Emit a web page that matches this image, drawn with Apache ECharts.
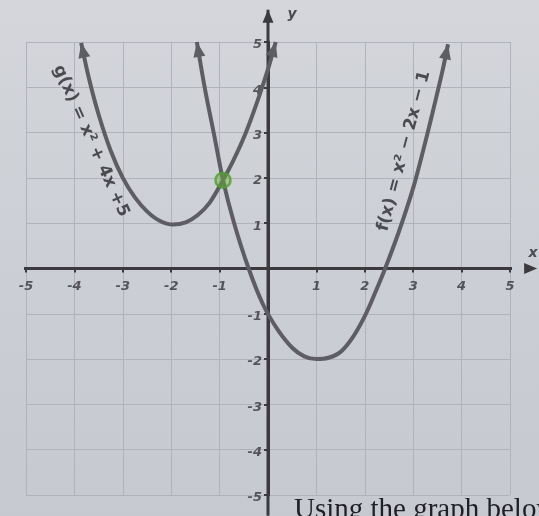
<!DOCTYPE html>
<html>
<head>
<meta charset="utf-8">
<script src="https://cdn.jsdelivr.net/npm/echarts@6/dist/echarts.min.js"></script>
<style>
  html, body { margin: 0; padding: 0; }
  #chart { width: 539px; height: 516px; background: linear-gradient(180deg, #d4d6db 0%, #cbced4 55%, #c6c9d0 100%); }
</style>
</head>
<body>
<div id="chart"></div>
<script>
// Traced points of the two parabolas, [x, y]
const fCurve = [
  [-1.47, 5.00], [-1.30, 3.95], [-1.10, 2.88], [-0.93, 1.95], [-0.70, 1.00],
  [-0.40, 0.00], [-0.10, -0.80], [0.20, -1.35], [0.50, -1.75], [0.75, -1.94],
  [1.00, -2.00], [1.25, -1.97], [1.50, -1.84], [1.75, -1.52], [2.00, -1.05],
  [2.20, -0.57], [2.42, 0.00], [2.70, 0.80], [3.00, 1.78], [3.20, 2.58],
  [3.40, 3.44], [3.60, 4.34], [3.72, 4.95]
];
const gCurve = [
  [-3.86, 4.98], [-3.70, 4.20], [-3.50, 3.40], [-3.25, 2.60], [-3.00, 2.00],
  [-2.75, 1.57], [-2.50, 1.26], [-2.25, 1.06], [-1.96, 0.97], [-1.70, 1.02],
  [-1.45, 1.18], [-1.20, 1.46], [-0.93, 1.95], [-0.70, 2.42], [-0.45, 3.02],
  [-0.20, 3.75], [0.00, 4.40], [0.16, 5.00]
];
// Point where the two graphs meet
const crossPoint = [[-0.93, 1.95]];
// Tick labels along each axis
const xTickValues = [-5, -4, -3, -2, -1, 1, 2, 3, 4, 5];
const yTickValues = [5, 4, 3, 2, 1, -1, -2, -3, -4, -5];
// Extent of the drawn coordinate axes (they run past the grid)
const xAxisSpan = [[-5.43, 0], [5.56, 0]];
const yAxisSpan = [[0, -5.46], [0, 5.71]];
// Text
const fLabel = 'f(x) = x\u00b2 \u2212 2x \u2212 1';
const gLabel = 'g(x) = x\u00b2 + 4x +5';
const caption = 'Using the graph below';

const curveColor = '#5d5d63';
const axisColor = '#3a3a3f';
const gridColor = '#b0b3ba';

const chart = echarts.init(document.getElementById('chart'), null, { renderer: 'canvas' });

const tickText = {
  color: '#36363b',
  fontStyle: 'italic',
  fontWeight: 'bold',
  fontSize: 13,
  fontFamily: '"DejaVu Sans", sans-serif'
};

const axisBase = {
  type: 'value', min: -5, max: 5, interval: 1,
  axisLine: { show: true, onZero: true, lineStyle: { color: axisColor, width: 3 } },
  axisTick: { show: true, length: 4, lineStyle: { color: axisColor, width: 2 } },
  axisLabel: { show: false },
  splitLine: { show: true, lineStyle: { color: gridColor, width: 1 } }
};

chart.setOption({
  animation: false,
  backgroundColor: 'transparent',
  grid: { left: 26, right: 29, top: 42, bottom: 21, containLabel: false },
  xAxis: Object.assign({}, axisBase),
  yAxis: Object.assign({}, axisBase),
  series: [
    { id: 'xline', type: 'line', data: xAxisSpan, clip: false, z: 2, silent: true },
    { id: 'yline', type: 'line', data: yAxisSpan, clip: false, z: 2, silent: true },
    { id: 'g', type: 'line', data: gCurve, clip: false, z: 3 },
    { id: 'f', type: 'line', data: fCurve, clip: false, z: 3 },
    { id: 'cross', type: 'scatter', data: crossPoint, clip: false, z: 6 },
    {
      id: 'xticks', type: 'scatter', silent: true, z: 1,
      data: xTickValues.map(v => [v, 0]),
      symbolSize: 0,
      label: Object.assign({ show: true, position: 'bottom', distance: 12,
                             formatter: p => String(p.value[0]) }, tickText)
    },
    {
      id: 'yticks', type: 'scatter', silent: true, z: 1,
      data: yTickValues.map(v => [0, v]),
      symbolSize: 0,
      label: Object.assign({ show: true, position: 'left', distance: 6, offset: [0, 3],
                             formatter: p => String(p.value[1]) }, tickText)
    }
  ]
});

// Put an arrow head on the chosen ends of a traced path, pointing along it
function withArrows(pts, atStart, atEnd, size) {
  const px = pts.map(p => chart.convertToPixel({ gridIndex: 0 }, p));
  return pts.map((p, i) => {
    let from = null, to = null;
    if (i === 0 && atStart) { from = px[1]; to = px[0]; }
    else if (i === pts.length - 1 && atEnd) { from = px[i - 1]; to = px[i]; }
    if (!from) return { value: p, symbol: 'none' };
    const dx = to[0] - from[0], dy = to[1] - from[1];
    const len = Math.hypot(dx, dy);
    const ux = dx / len, uy = dy / len;
    const deg = Math.atan2(-dy, dx) * 180 / Math.PI - 90;
    return {
      value: p,
      symbol: 'triangle',
      symbolSize: size,
      symbolRotate: deg,
      symbolOffset: [-ux * size[1] / 2, -uy * size[1] / 2]
    };
  });
}

chart.setOption({
  series: [
    {
      id: 'xline', showSymbol: true,
      data: withArrows(xAxisSpan, false, true, [11, 13]),
      lineStyle: { color: axisColor, width: 3 }, itemStyle: { color: axisColor }
    },
    {
      id: 'yline', showSymbol: true,
      data: withArrows(yAxisSpan, false, true, [11, 13]),
      lineStyle: { color: axisColor, width: 3 }, itemStyle: { color: axisColor }
    },
    {
      id: 'g', showSymbol: true, smooth: 0.3,
      data: withArrows(gCurve, true, true, [12, 15]),
      lineStyle: { color: curveColor, width: 4 }, itemStyle: { color: curveColor }
    },
    {
      id: 'f', showSymbol: true, smooth: 0.3,
      data: withArrows(fCurve, true, true, [12, 15]),
      lineStyle: { color: curveColor, width: 4 }, itemStyle: { color: curveColor }
    },
    {
      id: 'cross', symbol: 'circle', symbolSize: 15,
      itemStyle: { color: 'rgba(105,185,55,0.55)', borderColor: '#4f9e2f', borderWidth: 2.5 }
    }
  ],
  graphic: [
    {
      type: 'text', x: 91, y: 141, rotation: -66 * Math.PI / 180, z: 10,
      style: { text: gLabel, align: 'center', verticalAlign: 'middle', fill: '#4a4a50',
               font: 'bold 17px "DejaVu Sans", sans-serif' }
    },
    {
      type: 'text', x: 404, y: 151, rotation: 75 * Math.PI / 180, z: 10,
      style: { text: fLabel, align: 'center', verticalAlign: 'middle', fill: '#4a4a50',
               font: 'bold 17px "DejaVu Sans", sans-serif' }
    },
    {
      type: 'text', x: 292, y: 14, z: 10,
      style: { text: 'y', align: 'center', verticalAlign: 'middle', fill: '#4b4b52',
               font: 'italic bold 14px "DejaVu Sans", sans-serif' }
    },
    {
      type: 'text', x: 533, y: 253, z: 10,
      style: { text: 'x', align: 'center', verticalAlign: 'middle', fill: '#4b4b52',
               font: 'italic bold 14px "DejaVu Sans", sans-serif' }
    },
    {
      type: 'text', x: 294, y: 510, z: 10,
      style: { text: caption, align: 'left', verticalAlign: 'middle', fill: '#1f1f24',
               font: '29px "Liberation Serif", serif' }
    }
  ]
});
</script>
</body>
</html>
